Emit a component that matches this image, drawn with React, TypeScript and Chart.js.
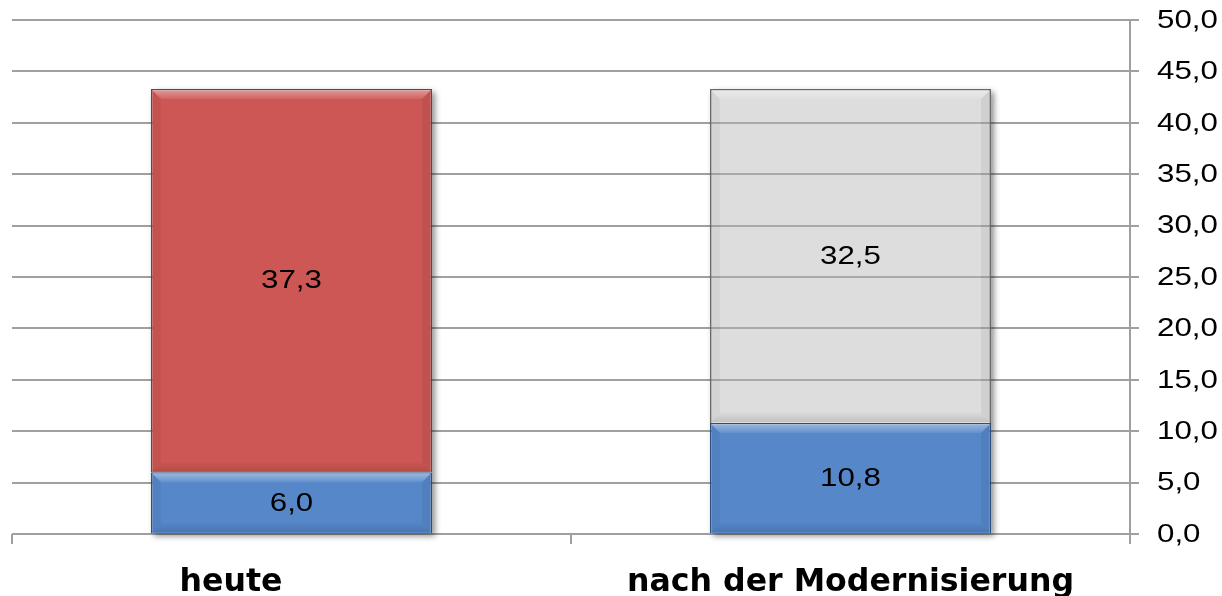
import React, { useEffect, useRef } from "react";
import { Chart, registerables } from "chart.js";

Chart.register(...registerables);

// the first category label carries trailing blanks in the original, which shifts it left
const categories = ["heute           ", "nach der Modernisierung"];
const blueValues = [6.0, 10.8];
const redValues = [37.3, null];
const grayValues = [null, 32.5];
const yMin = 0;
const yMax = 50;
const yStep = 5;

const fmt = (v: number) => v.toFixed(1).replace(".", ",");
const ARIAL = "'Liberation Sans', Arial, sans-serif";
const STRETCH = 1.25;

function stretchedText(ctx: any, text: string, x: number, y: number, align: "left" | "center") {
  ctx.save();
  ctx.font = `25px ${ARIAL}`;
  ctx.fillStyle = "#000";
  ctx.textBaseline = "middle";
  ctx.textAlign = align;
  ctx.translate(x, y);
  ctx.scale(STRETCH, 1);
  ctx.fillText(text, 0, 0);
  ctx.restore();
}

const barFx = {
  id: "barFx",
  beforeDatasetsDraw(chart: any) {
    const ctx = chart.ctx;
    const n = chart.data.labels.length;
    for (let i = 0; i < n; i++) {
      let top = Infinity, bottom = -Infinity, left = 0, right = 0;
      chart.data.datasets.forEach((ds: any, di: number) => {
        const v = ds.data[i];
        if (v == null) return;
        const el = chart.getDatasetMeta(di).data[i] as any;
        top = Math.min(top, el.y, el.base);
        bottom = Math.max(bottom, el.y, el.base);
        left = el.x - el.width / 2;
        right = el.x + el.width / 2;
      });
      if (!isFinite(top)) continue;
      ctx.save();
      ctx.beginPath();
      ctx.rect(0, 0, chart.width, chart.height);
      ctx.rect(left, top, right - left, bottom - top);
      ctx.clip("evenodd");
      ctx.shadowColor = "rgba(0,0,0,0.45)";
      ctx.shadowBlur = 6;
      ctx.shadowOffsetX = 10000 + 3;
      ctx.shadowOffsetY = 3;
      ctx.fillStyle = "#000";
      ctx.fillRect(left - 10000, top, right - left, bottom - top);
      ctx.restore();
    }
  },
  afterDatasetsDraw(chart: any) {
    const ctx = chart.ctx;
    chart.data.datasets.forEach((ds: any, di: number) => {
      const meta = chart.getDatasetMeta(di);
      meta.data.forEach((el: any, i: number) => {
        const v = ds.data[i];
        if (v == null) return;
        const l = el.x - el.width / 2 + 1;
        const r = el.x + el.width / 2 - 1;
        const t = Math.min(el.y, el.base) + 1;
        const b = Math.max(el.y, el.base) - 1;
        const bv = 9;
        ctx.save();
        let g = ctx.createLinearGradient(0, t, 0, t + bv);
        g.addColorStop(0, "rgba(255,255,255,0.4)");
        g.addColorStop(1, "rgba(255,255,255,0.08)");
        ctx.fillStyle = g;
        ctx.beginPath();
        ctx.moveTo(l, t);
        ctx.lineTo(r, t);
        ctx.lineTo(r - bv, t + bv);
        ctx.lineTo(l + bv, t + bv);
        ctx.closePath();
        ctx.fill();
        g = ctx.createLinearGradient(0, b - bv, 0, b);
        g.addColorStop(0, "rgba(0,0,0,0.02)");
        g.addColorStop(1, "rgba(0,0,0,0.12)");
        ctx.fillStyle = g;
        ctx.beginPath();
        ctx.moveTo(l, b);
        ctx.lineTo(r, b);
        ctx.lineTo(r - bv, b - bv);
        ctx.lineTo(l + bv, b - bv);
        ctx.closePath();
        ctx.fill();
        ctx.fillStyle = "rgba(0,0,0,0.04)";
        ctx.beginPath();
        ctx.moveTo(l, t);
        ctx.lineTo(l + bv, t + bv);
        ctx.lineTo(l + bv, b - bv);
        ctx.lineTo(l, b);
        ctx.closePath();
        ctx.fill();
        ctx.fillStyle = "rgba(0,0,0,0.06)";
        ctx.beginPath();
        ctx.moveTo(r, t);
        ctx.lineTo(r - bv, t + bv);
        ctx.lineTo(r - bv, b - bv);
        ctx.lineTo(r, b);
        ctx.closePath();
        ctx.fill();
        ctx.restore();

        stretchedText(ctx, fmt(v), el.x, (el.y + el.base) / 2 + 1, "center");
      });
    });
  },
  afterDraw(chart: any) {
    const scale = chart.scales.y;
    const ctx = chart.ctx;
    scale.ticks.forEach((t: any) => {
      const y = scale.getPixelForValue(t.value);
      stretchedText(ctx, fmt(Number(t.value)), scale.left + 27, y + 1, "left");
    });
  },
};

export default function App() {
  const ref = useRef<HTMLCanvasElement>(null);
  useEffect(() => {
    if (!ref.current) return;
    const chart = new Chart(ref.current, {
      type: "bar",
      data: {
        labels: categories,
        datasets: [
          {
            label: "blau",
            data: blueValues,
            backgroundColor: "#5687C9",
            borderColor: "#2F4F7A",
            borderWidth: 1.5,
            stack: "s",
          },
          {
            label: "rot",
            data: redValues as any,
            backgroundColor: "#CD5754",
            borderColor: "#8A3432",
            borderWidth: 1.5,
            stack: "s",
          },
          {
            label: "grau",
            data: grayValues as any,
            backgroundColor: "rgba(180,180,180,0.45)",
            borderColor: "#6A6A6A",
            borderWidth: 1.5,
            stack: "s",
          },
        ],
      },
      options: {
        animation: false,
        responsive: false,
        maintainAspectRatio: false,
        layout: { padding: { left: 12, top: 20, right: 0, bottom: 0 } },
        plugins: {
          legend: { display: false },
          tooltip: { enabled: false },
        },
        datasets: {
          bar: { barPercentage: 1, categoryPercentage: 0.503 },
        },
        scales: {
          x: {
            stacked: true,
            offset: true,
            grid: {
              offset: true,
              drawOnChartArea: false,
              drawTicks: true,
              tickLength: 10,
              color: "#A0A0A0",
              lineWidth: 2,
            },
            border: { display: false },
            ticks: {
              color: "#000",
              font: { family: "'DejaVu Sans', Verdana, sans-serif", size: 31.6, weight: "bold" },
              padding: 20,
              maxRotation: 0,
              autoSkip: false,
            },
            afterFit(scale: any) {
              scale.height = 62;
            },
          },
          y: {
            position: "right",
            stacked: true,
            min: yMin,
            max: yMax,
            ticks: {
              display: false,
              stepSize: yStep,
            },
            grid: {
              color: "#A0A0A0",
              lineWidth: 2,
              tickLength: 9,
            },
            border: { display: true, color: "#A0A0A0", width: 2 },
            afterFit(scale: any) {
              scale.width = 92;
            },
          },
        },
      },
      plugins: [barFx],
    });
    return () => chart.destroy();
  }, []);
  return (
    <div style={{ position: "absolute", left: 0, top: 0, width: 1222, height: 596, background: "#fff" }}>
      <canvas ref={ref} width={1222} height={596} style={{ width: 1222, height: 596 }} />
    </div>
  );
}
